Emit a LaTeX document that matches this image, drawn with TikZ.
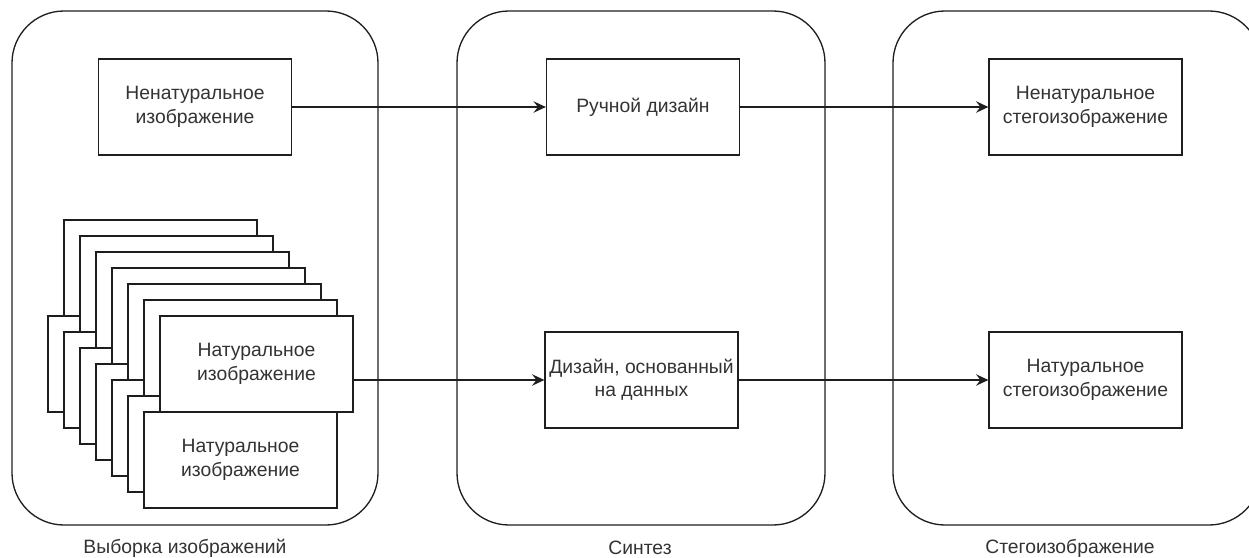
\documentclass[tikz,border=0pt]{standalone}
\usepackage{fontspec}
\setmainfont{Liberation Sans}
\usepackage{xcolor}
\definecolor{rmtekst}{RGB}{51,51,51}
\definecolor{rmlinia}{RGB}{30,30,30}
\usepackage{tikz}
\usetikzlibrary{arrows.meta}
\tikzset{
  blok/.style={draw=rmlinia,line width=0.75pt,fill=white,minimum width=3.86cm,minimum height=1.92cm,
    align=center,inner sep=1pt,text=rmtekst,font=\fontsize{11}{13.3}\selectfont},
  kontener/.style={draw=rmlinia,line width=0.75pt,rounded corners=1.04cm},
  podpis/.style={text=rmtekst,font=\fontsize{11}{13.3}\selectfont},
  strz/.style={draw=rmlinia,line width=0.75pt,-{Stealth[length=7pt,width=6.5pt,inset=2.5pt]}}
}
\begin{document}
\begin{tikzpicture}[x=0.02cm,y=-0.02cm]
\useasboundingbox (0,0) rectangle (1249,558);
% ---- kontenery ----
\draw[kontener] (12,11) rectangle (378,525);
\draw[kontener] (457,11) rectangle (825,525);
\draw[kontener] (893,11) rectangle (1261,525);
\node[podpis] (pwyb) at (185,548) {Выборка изображений};
\node[podpis] (psint) at (640,548) {Синтез};
\node[podpis] (psteg) at (1070,548) {Стегоизображение};
% ---- vyborka ----
\node[blok] (nenat) at (195,107) {Ненатуральное\\изображение};
% stopka kadrov (szadi vpered)
\foreach \k in {0,...,5}{
  \draw[line width=0.75pt,draw=rmlinia,fill=white] (64+16*\k,220+16*\k) rectangle ++(193,96);
  \draw[line width=0.75pt,draw=rmlinia,fill=white] (48+16*\k,316+16*\k) rectangle ++(193,96);
}
\node[blok] (nat1) at (256.5,364) {Натуральное\\изображение};
\node[blok] (nat2) at (240.5,460) {Натуральное\\изображение};
% ---- sintez ----
\node[blok] (ruchn) at (643,107) {Ручной дизайн};
\node[blok] (dann) at (641.5,380) {Дизайн, основанный\\на данных};
% ---- stegoizobrazhenie ----
\node[blok] (stnenat) at (1085.5,107) {Ненатуральное\\стегоизображение};
\node[blok] (stnat) at (1085.5,380) {Натуральное\\стегоизображение};
% strelki
\draw[strz] (nenat.east) -- (ruchn.west);
\draw[strz] (nat1.east |- dann.west) -- (dann.west);
\draw[strz] (ruchn.east) -- (stnenat.west);
\draw[strz] (dann.east) -- (stnat.west);
\end{tikzpicture}
\end{document}
